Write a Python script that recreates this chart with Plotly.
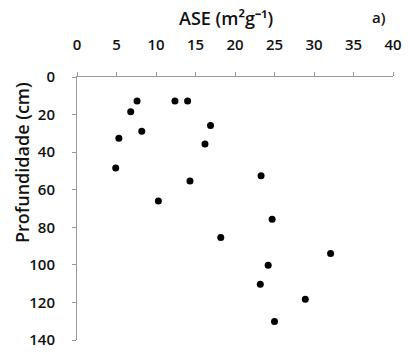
import plotly.graph_objects as go

# Specific surface area (ASE, m2/g) by depth (cm)
ase = [7.6, 12.4, 14.0, 6.8, 16.9, 8.2, 5.3, 16.2, 4.9, 14.3, 10.3,
       23.3, 24.7, 18.2, 32.1, 24.2, 23.2, 28.9, 25.0]
depth = [12.8, 12.8, 12.8, 18.5, 25.8, 28.9, 32.6, 35.7, 48.4, 55.4, 66.0,
         52.6, 75.7, 85.4, 94.0, 100.2, 110.3, 118.3, 130.1]

x_ticks = [0, 5, 10, 15, 20, 25, 30, 35, 40]
y_ticks = [0, 20, 40, 60, 80, 100, 120, 140]

font_family = "'Open Sans', sans-serif"
text_color = "#111111"
axis_color = "#9a9a9a"
weight = 600

W, H = 409, 356
L, R, T, B = 77, 10, 77, 7

fig = go.Figure()
fig.add_trace(go.Scatter(
    x=ase, y=depth, mode="markers",
    marker=dict(color="black", size=7),
    showlegend=False,
))

axis_common = dict(
    showgrid=False, zeroline=False,
    showline=True, linecolor=axis_color, linewidth=1,
    ticks="outside", ticklen=4, tickcolor=axis_color,
    tickfont=dict(size=15, family=font_family, color=text_color, weight=weight),
    ticklabeloverflow="allow",
)

fig.update_layout(
    width=W, height=H,
    margin=dict(l=L, r=R, t=T, b=B),
    paper_bgcolor="white", plot_bgcolor="white",
    font=dict(family=font_family, color=text_color, size=15),
    xaxis=dict(side="top", range=[0, 40], tickvals=x_ticks,
               ticklabelstandoff=16, **axis_common),
    yaxis=dict(range=[140, 0], tickvals=y_ticks,
               ticklabelstandoff=14, **axis_common),
)

plot_w = W - L - R
plot_h = H - T - B


def px_x(px):
    return (px - L) / plot_w


def px_y(py):
    return 1 - (py - T) / plot_h


fig.add_annotation(text="ASE (m²g⁻¹)", x=px_x(229), y=px_y(16),
                   xref="paper", yref="paper", xanchor="center", yanchor="middle",
                   showarrow=False,
                   font=dict(size=18, family=font_family, color=text_color, weight=weight))
fig.add_annotation(text="a)", x=px_x(394), y=px_y(15),
                   xref="paper", yref="paper", xanchor="right", yanchor="middle",
                   showarrow=False,
                   font=dict(size=15, family=font_family, color=text_color, weight=weight))
fig.add_annotation(text="Profundidade (cm)", x=px_x(21), y=px_y(166),
                   xref="paper", yref="paper", xanchor="center", yanchor="middle",
                   showarrow=False, textangle=-90,
                   font=dict(size=18, family=font_family, color=text_color, weight=weight))

fig.write_html("out.html")
